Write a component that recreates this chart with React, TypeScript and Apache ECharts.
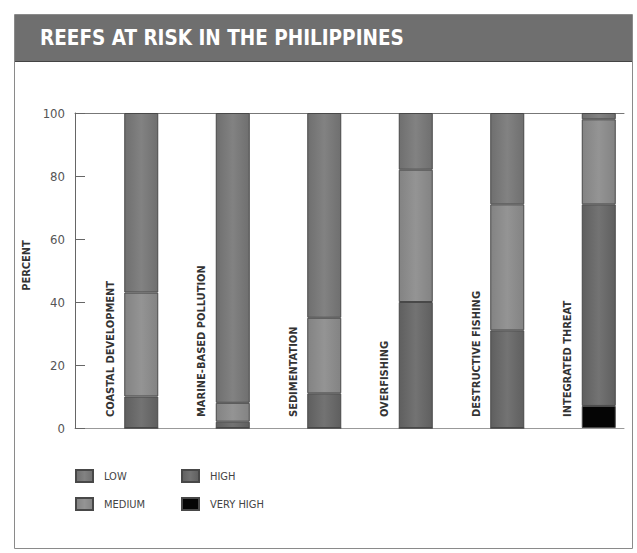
import React, { useEffect, useRef } from 'react';
import * as echarts from 'echarts';

const TITLE = 'REEFS AT RISK IN THE PHILIPPINES';
const Y_NAME = 'PERCENT';
const categories = [
  'COASTAL DEVELOPMENT',
  'MARINE-BASED POLLUTION',
  'SEDIMENTATION',
  'OVERFISHING',
  'DESTRUCTIVE FISHING',
  'INTEGRATED THREAT',
];
const veryHigh = [0, 0, 0, 0, 0, 7];
const high = [10, 2, 11, 40, 31, 64];
const medium = [33, 6, 24, 42, 40, 27];
const low = [57, 92, 65, 18, 29, 2];
const yMin = 0;
const yMax = 100;
const yInterval = 20;
const legendLeft = ['LOW', 'MEDIUM'];
const legendRight = ['HIGH', 'VERY HIGH'];

const COND = "'Liberation Sans Narrow', 'DejaVu Sans Condensed', 'Roboto', sans-serif";

function shade(edge: string, mid: string) {
  return new echarts.graphic.LinearGradient(0, 0, 1, 0, [
    { offset: 0, color: edge },
    { offset: 0.5, color: mid },
    { offset: 1, color: edge },
  ]);
}

export default function App() {
  const ref = useRef<HTMLDivElement>(null);
  useEffect(() => {
    document.body.style.margin = '0';
    if (!ref.current) return;
    const chart = echarts.init(ref.current, null, { renderer: 'svg' });
    const labelCarrier = categories.map(() => yMax);
    const border = { borderColor: '#484848', borderWidth: 1 };
    const legendBase = {
      orient: 'vertical' as const,
      top: 469,
      padding: 0,
      icon: 'rect',
      itemWidth: 17,
      itemHeight: 12,
      itemGap: 14,
      selectedMode: false,
      textStyle: { fontSize: 11, color: '#444', fontFamily: COND, padding: [0, 0, 0, 6] },
    };
    chart.setOption({
      animation: false,
      backgroundColor: '#ffffff',
      title: {
        text: TITLE,
        left: 40,
        top: 27,
        padding: 0,
        textStyle: { color: '#ffffff', fontSize: 20.5, fontWeight: 'bold', fontFamily: COND },
      },
      graphic: [
        {
          type: 'rect',
          z: -10,
          shape: { x: 14.5, y: 14.5, width: 618, height: 534 },
          style: { fill: 'none', stroke: '#8a8a8a', lineWidth: 1 },
        },
        {
          type: 'rect',
          z: -9,
          shape: { x: 15, y: 15, width: 617, height: 46 },
          style: { fill: '#6f6f6f' },
        },
        {
          type: 'line',
          z: -8,
          shape: { x1: 15, y1: 61.5, x2: 632, y2: 61.5 },
          style: { stroke: '#444', lineWidth: 1 },
        },
      ],
      legend: [
        { ...legendBase, left: 75, data: legendLeft },
        { ...legendBase, left: 181, data: legendRight },
      ],
      grid: { left: 75, top: 113, width: 549, height: 315, containLabel: false },
      xAxis: [
        {
          type: 'category',
          data: categories,
          position: 'bottom',
          axisLine: { show: true, lineStyle: { color: '#999', width: 1 } },
          axisTick: { show: false },
          axisLabel: { show: false },
          splitLine: { show: false },
        },
        {
          type: 'category',
          data: categories,
          position: 'top',
          axisLine: { show: true, lineStyle: { color: '#777', width: 1 } },
          axisTick: { show: false },
          axisLabel: { show: false },
          splitLine: { show: false },
        },
      ],
      yAxis: {
        type: 'value',
        min: yMin,
        max: yMax,
        interval: yInterval,
        axisLine: { show: true, lineStyle: { color: '#666', width: 1 } },
        axisTick: { show: true, inside: true, length: 10, lineStyle: { color: '#666' } },
        axisLabel: { margin: 10, fontSize: 13, color: '#555', fontFamily: COND },
        splitLine: { show: false },
        name: Y_NAME,
        nameLocation: 'middle',
        nameGap: 41,
        nameRotate: 90,
        nameTextStyle: { fontSize: 11, fontWeight: 'bold', color: '#333', fontFamily: COND, padding: [0, 0, 0, 10] },
      },
      series: [
        {
          type: 'bar',
          name: 'labels',
          stack: 'labels',
          barWidth: 54,
          barGap: '-24.07%',
          silent: true,
          data: labelCarrier,
          itemStyle: { color: 'rgba(0,0,0,0)', borderWidth: 0 },
          label: {
            show: true,
            position: 'insideBottom',
            distance: 11,
            rotate: 90,
            align: 'left',
            verticalAlign: 'middle',
            formatter: (p: any) => categories[p.dataIndex],
            fontSize: 11,
            fontWeight: 'bold',
            color: '#333',
            fontFamily: COND,
          },
        },
        {
          type: 'bar', name: 'VERY HIGH', stack: 'risk', barWidth: 34, barGap: '-24.07%',
          data: veryHigh, itemStyle: { color: '#050505', ...border },
        },
        {
          type: 'bar', name: 'HIGH', stack: 'risk', barWidth: 34, barGap: '-24.07%',
          data: high, itemStyle: { color: shade('#5f5f5f', '#737373'), ...border },
        },
        {
          type: 'bar', name: 'MEDIUM', stack: 'risk', barWidth: 34, barGap: '-24.07%',
          data: medium, itemStyle: { color: shade('#838383', '#949494'), ...border },
        },
        {
          type: 'bar', name: 'LOW', stack: 'risk', barWidth: 34, barGap: '-24.07%',
          data: low, itemStyle: { color: shade('#6f6f6f', '#828282'), ...border },
        },
      ],
    });
    return () => chart.dispose();
  }, []);
  return <div ref={ref} style={{ width: 637, height: 553 }} />;
}
